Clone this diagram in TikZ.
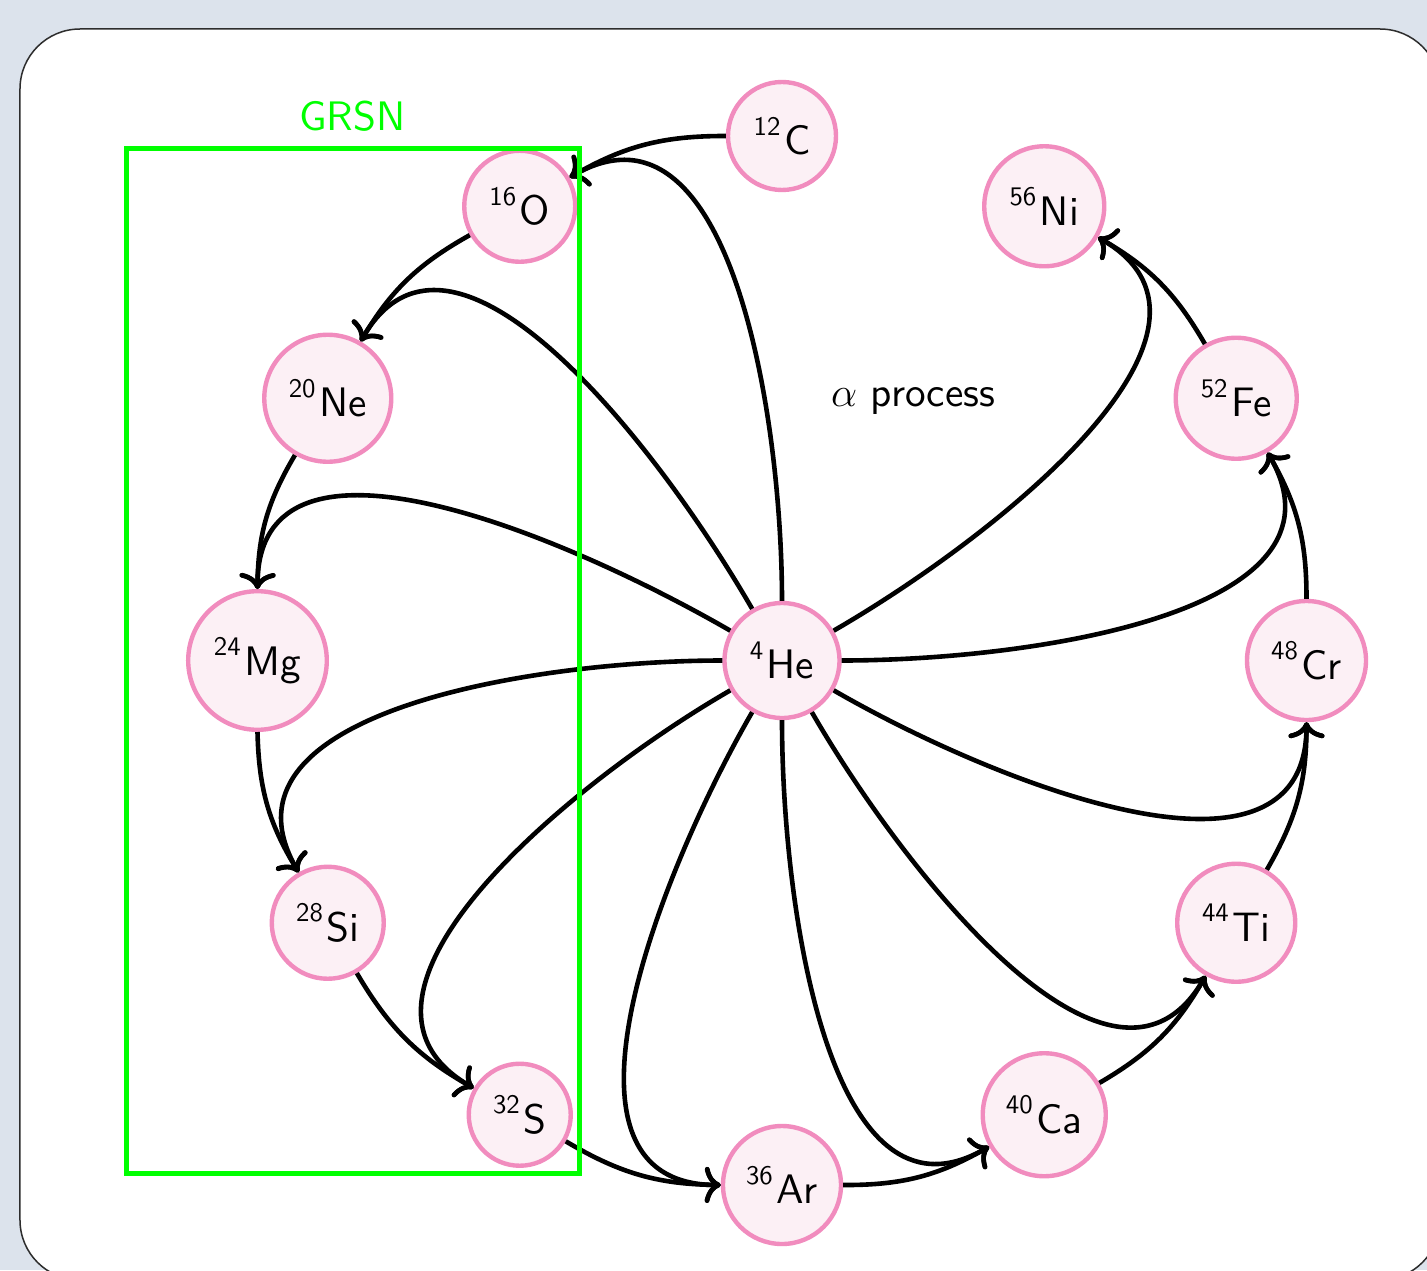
\documentclass[tikz,border=0pt]{standalone}
\usepackage{fontspec}
\usetikzlibrary{arrows.meta}
\newfontfamily\nucfam[Extension=.otf]{lmsans10-regular}
\definecolor{pagebg}{RGB}{220,227,236}
\definecolor{framegray}{RGB}{45,45,45}
\definecolor{ringpink}{RGB}{241,140,190}
\definecolor{ringfill}{RGB}{252,240,245}
\newcommand{\nucfont}{\fontsize{20.6}{24}\selectfont\nucfam}
% isotope label: mass number raised before the element symbol
\newcommand{\iso}[2]{\raisebox{9.7pt}{\fontsize{13.4}{15}\selectfont\nucfam #1}\kern1.8pt #2}
\begin{document}
\begin{tikzpicture}[x=0.5pt, y=0.5pt,
  nuc/.style={circle, draw=ringpink, fill=ringfill, line width=2.2pt,
    inner sep=0pt, minimum size=#1, font=\nucfont},
  link/.style={-{To[length=8pt,width=18pt]}, line width=2.3pt, black},
  lab/.style={font=\nucfont, inner sep=0pt}]
\useasboundingbox (-782,660.5) rectangle (645,-609.5);
\fill[pagebg] (-782,660.5) rectangle (645,-609.5);
\draw[fill=white, draw=framegray, line width=0.75pt, rounded corners=30pt]
  (-762,631.5) rectangle (658,-619.5);

% helium in the middle, the alpha chain on a ring around it
\node[nuc=57.5pt] (He) at (0,0)        {\iso{4}{He}};
\node[nuc=54pt]   (C)  at (90:524.5)   {\iso{12}{C}};
\node[nuc=55.5pt] (O)  at (120:524.5)  {\iso{16}{O}};
\node[nuc=63.5pt] (Ne) at (150:524.5)  {\iso{20}{Ne}};
\node[nuc=69.3pt] (Mg) at (180:524.5)  {\iso{24}{Mg}};
\node[nuc=56pt]   (Si) at (210:524.5)  {\iso{28}{Si}};
\node[nuc=51pt]   (S)  at (240:524.5)  {\iso{32}{S}};
\node[nuc=59pt]   (Ar) at (270:524.5)  {\iso{36}{Ar}};
\node[nuc=61.5pt] (Ca) at (300:524.5)  {\iso{40}{Ca}};
\node[nuc=59pt]   (Ti) at (330:524.5)  {\iso{44}{Ti}};
\node[nuc=59.5pt] (Cr) at (0:524.5)    {\iso{48}{Cr}};
\node[nuc=60.5pt] (Fe) at (30:524.5)   {\iso{52}{Fe}};
\node[nuc=60pt]   (Ni) at (60:524.5)   {\iso{56}{Ni}};

% successive captures along the ring
\foreach \a/\b in {C/O, O/Ne, Ne/Mg, Mg/Si, Si/S, S/Ar, Ar/Ca, Ca/Ti, Ti/Cr, Cr/Fe, Fe/Ni}
  \draw[link] (\a) to[bend right=15] (\b);

% helium feeding each capture
\foreach \n/\o/\i in {O/90/30, Ne/120/60, Mg/150/90, Si/180/120, S/210/150, Ar/240/180,
                      Ca/270/210, Ti/300/240, Cr/330/270, Fe/0/-60, Ni/30/-30}
  \draw[link] (He) to[out=\o, in=\i] (\n);

\node[lab] (proc) at (131,260) {$\alpha$ process};

% GRSN region
\draw[green, line width=2.5pt] (-655,511.5) rectangle (-203,-513);
\node[lab, text=green] (grsn) at (-429.5,544.5) {GRSN};
\end{tikzpicture}
\end{document}
